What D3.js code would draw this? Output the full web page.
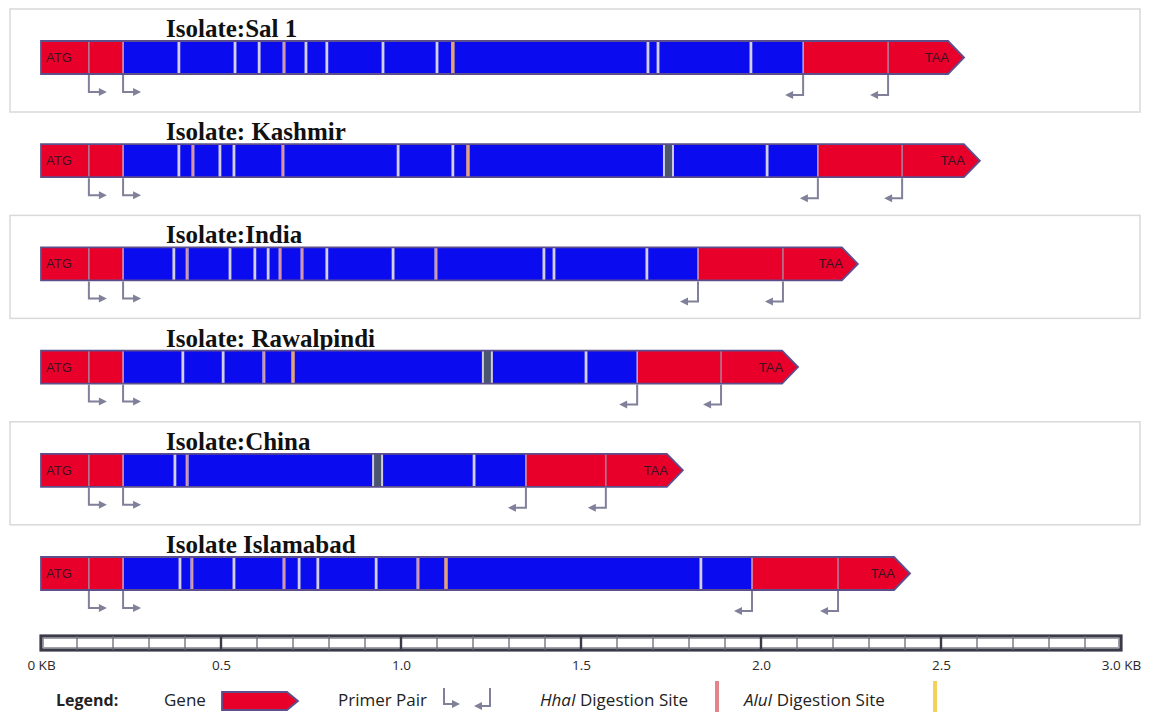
<!DOCTYPE html>
<html>
<head>
<meta charset="utf-8">
<script src="https://cdn.jsdelivr.net/npm/d3@7"></script>
<style>
  html, body { margin: 0; padding: 0; background: #fff; }
  svg { display: block; }
</style>
</head>
<body>
<svg id="map" width="1150" height="713"></svg>
<script>
// ---- data (positions along the gene, in KB) ----
const isolates = ["Isolate:Sal 1", "Isolate: Kashmir", "Isolate:India", "Isolate: Rawalpindi", "Isolate:China", "Isolate Islamabad"];
const geneEnd   = [2.564, 2.608, 2.269, 2.103, 1.783, 2.414];
const tailStart = [2.117, 2.158, 1.825, 1.656, 1.347, 1.975];   // first reverse primer, start of 3' red region
const revPrimer = [2.353, 2.392, 2.061, 1.889, 1.569, 2.214];   // second reverse primer
const fwdPrimers = [0.133, 0.228];
const exonBreaks = [
  [0.383, 0.539, 0.606, 0.736, 0.794, 0.950, 1.100, 1.686, 1.714, 1.972],
  [0.383, 0.497, 0.536, 0.992, 1.144, 2.017],
  [0.369, 0.525, 0.594, 0.631, 0.794, 0.978, 1.397, 1.425, 1.683],
  [0.394, 0.506, 1.514],
  [0.372, 1.203],
  [0.386, 0.536, 0.717, 0.769, 0.931, 1.833]
];
const hhaISites = [
  [0.675],
  [0.422, 0.672],
  [0.406, 0.664, 0.725, 1.097],
  [0.619],
  [0.406],
  [0.419, 0.675, 1.047]
];
const aluISites = [
  [1.144],
  [1.186],
  [],
  [0.700],
  [],
  [1.125]
];
const pairedSites = [
  [],
  [1.743],
  [],
  [1.240],
  [0.935],
  []
];
const kbTicks = [0, 0.5, 1.0, 1.5, 2.0, 2.5, 3.0];
const tickLabels = ["0 KB", "0.5", "1.0", "1.5", "2.0", "2.5", "3.0 KB"];

// ---- layout ----
const svg = d3.select("#map");
const x = d3.scaleLinear().domain([0, 3]).range([41, 1121]);
const rowY = d3.scaleLinear().domain([0, 1]).range([41, 144.2]); // top of each gene bar
const barH = 33, headLen = 16;

const RED = "#e8002b", BLUE = "#0b0bef", OUTLINE = "#5c4f8c";
const HHA = "#e2848a", ALU = "#f2d25a", ALU_IN = "#e6a468";
const BREAK = "#d3cfe2", ARROW = "#80809a", DARK = "#4a5670";

const defs = svg.append("defs");

function genePath(x0, x1, y, h, head) {
  return `M${x0},${y}L${x1 - head},${y}L${x1},${y + h / 2}L${x1 - head},${y + h}L${x0},${y + h}Z`;
}

function fwdArrow(g, px, y0, y1, len) {
  g.append("path").attr("d", `M${px},${y0}V${y1}H${px + len - 5}`)
    .attr("fill", "none").attr("stroke", ARROW).attr("stroke-width", 2);
  g.append("path").attr("d", `M${px + len},${y1}L${px + len - 8},${y1 - 4}L${px + len - 8},${y1 + 4}Z`)
    .attr("fill", ARROW);
}
function revArrow(g, px, y0, y1, len) {
  g.append("path").attr("d", `M${px},${y0}V${y1}H${px - len + 5}`)
    .attr("fill", "none").attr("stroke", ARROW).attr("stroke-width", 2);
  g.append("path").attr("d", `M${px - len},${y1}L${px - len + 8},${y1 - 4}L${px - len + 8},${y1 + 4}Z`)
    .attr("fill", ARROW);
}

isolates.forEach((name, i) => {
  const y = rowY(i);
  const g = svg.append("g").attr("class", "isolate");

  // framed panels on alternate rows
  if (i % 2 === 0) {
    g.append("rect").attr("x", 10).attr("y", y - 32).attr("width", 1130).attr("height", 103)
      .attr("fill", "none").attr("stroke", "#d9d9dc").attr("stroke-width", 1.5);
  }

  // isolate title
  g.append("text").attr("x", 166).attr("y", y - 4)
    .attr("font-family", "Liberation Serif, serif").attr("font-weight", "bold")
    .attr("font-size", 25).attr("fill", "#111").text(name);

  const x0 = x(0), x1 = x(geneEnd[i]);
  const d = genePath(x0, x1, y, barH, headLen);
  const clipId = "clip" + i;
  defs.append("clipPath").attr("id", clipId).append("path").attr("d", d);

  const body = g.append("g").attr("clip-path", `url(#${clipId})`);
  body.append("path").attr("d", d).attr("fill", RED);
  body.append("rect").attr("x", x(fwdPrimers[1])).attr("y", y)
    .attr("width", x(tailStart[i]) - x(fwdPrimers[1])).attr("height", barH).attr("fill", BLUE);

  // region boundaries and primer sites inside red regions
  [fwdPrimers[0], revPrimer[i]].forEach(p => {
    body.append("line").attr("x1", x(p)).attr("x2", x(p)).attr("y1", y).attr("y2", y + barH)
      .attr("stroke", "#a497ad").attr("stroke-width", 1.3);
  });
  [fwdPrimers[1], tailStart[i]].forEach(p => {
    body.append("line").attr("x1", x(p)).attr("x2", x(p)).attr("y1", y).attr("y2", y + barH)
      .attr("stroke", "#c9c0dc").attr("stroke-width", 1.3);
  });

  // plain breaks
  exonBreaks[i].forEach(p => {
    body.append("line").attr("x1", x(p)).attr("x2", x(p)).attr("y1", y).attr("y2", y + barH)
      .attr("stroke", BREAK).attr("stroke-width", 2.8);
  });
  // HhaI sites
  hhaISites[i].forEach(p => {
    body.append("line").attr("x1", x(p)).attr("x2", x(p)).attr("y1", y).attr("y2", y + barH)
      .attr("stroke", "#c7b8d8").attr("stroke-width", 3);
    body.append("line").attr("x1", x(p)).attr("x2", x(p)).attr("y1", y).attr("y2", y + barH)
      .attr("stroke", HHA).attr("stroke-width", 1.4);
  });
  // AluI sites
  aluISites[i].forEach(p => {
    body.append("line").attr("x1", x(p)).attr("x2", x(p)).attr("y1", y).attr("y2", y + barH)
      .attr("stroke", "#d89a9a").attr("stroke-width", 3.6);
    body.append("line").attr("x1", x(p)).attr("x2", x(p)).attr("y1", y).attr("y2", y + barH)
      .attr("stroke", ALU_IN).attr("stroke-width", 1.8);
  });
  // closely spaced HhaI + AluI pair
  pairedSites[i].forEach(p => {
    body.append("rect").attr("x", x(p) - 5.5).attr("y", y).attr("width", 11).attr("height", barH)
      .attr("fill", "#cfcadf");
    body.append("rect").attr("x", x(p) - 3.5).attr("y", y).attr("width", 7).attr("height", barH)
      .attr("fill", DARK);
  });

  // outline
  g.append("path").attr("d", d).attr("fill", "none").attr("stroke", OUTLINE).attr("stroke-width", 1.8)
    .attr("stroke-linejoin", "miter");

  // start / stop codons
  g.append("text").attr("x", x0 + 5).attr("y", y + barH / 2 + 4.5)
    .attr("font-family", "Liberation Sans, Arial, sans-serif").attr("font-size", 13)
    .attr("fill", "#3a1422").text("ATG");
  g.append("text").attr("x", x1 - headLen + 1).attr("y", y + barH / 2 + 4.5)
    .attr("text-anchor", "end")
    .attr("font-family", "Liberation Sans, Arial, sans-serif").attr("font-size", 13)
    .attr("fill", "#3a1422").text("TAA");

  // primer pair
  fwdPrimers.forEach(p => fwdArrow(g, x(p), y + barH + 1, y + barH + 18, 18));
  [tailStart[i], revPrimer[i]].forEach(p => revArrow(g, x(p), y + barH + 1, y + barH + 21, 18));
});

// ---- KB ruler ----
const ruler = svg.append("g").attr("class", "ruler");
const rTop = 636, rH = 14;
ruler.append("rect").attr("x", x(0)).attr("y", rTop).attr("width", x(3) - x(0)).attr("height", rH)
  .attr("fill", "#fff").attr("stroke", "#3a3a48").attr("stroke-width", 3.2);
ruler.append("rect").attr("x", x(0) + 2.5).attr("y", rTop + 2.5).attr("width", x(3) - x(0) - 5).attr("height", rH - 5)
  .attr("fill", "none").attr("stroke", "#8a8a96").attr("stroke-width", 0.8);
d3.range(1, 30).forEach(k => {
  const v = k / 10, major = k % 5 === 0;
  ruler.append("line").attr("x1", x(v)).attr("x2", x(v)).attr("y1", rTop).attr("y2", rTop + rH)
    .attr("stroke", major ? "#3a3a48" : "#6a6a76").attr("stroke-width", major ? 2.4 : 1.3);
});

const axis = d3.axisBottom(x).tickValues(kbTicks).tickSize(0).tickPadding(0)
  .tickFormat((d, i) => tickLabels[i]);
const axG = svg.append("g").attr("transform", `translate(0,${rTop + rH + 10})`).call(axis);
axG.select(".domain").remove();
axG.selectAll("text").attr("font-family", "Open Sans, sans-serif").attr("font-size", 13.5)
  .attr("fill", "#2a2a2a").attr("dy", "0.72em");

// ---- legend ----
const lg = svg.append("g").attr("class", "legend").attr("font-family", "Open Sans, sans-serif")
  .attr("font-size", 17).attr("fill", "#222");
const ly = 706;
lg.append("text").attr("x", 56).attr("y", ly).attr("font-weight", "bold").attr("font-size", 16).text("Legend:");
lg.append("text").attr("x", 164).attr("y", ly).text("Gene");
lg.append("path").attr("d", genePath(222, 298, 692, 18, 11)).attr("fill", RED)
  .attr("stroke", OUTLINE).attr("stroke-width", 1.8);
lg.append("text").attr("x", 338).attr("y", ly).text("Primer Pair");
fwdArrow(lg, 444, 688, 704, 16);
revArrow(lg, 490, 688, 706, 16);
const t1 = lg.append("text").attr("x", 540).attr("y", ly);
t1.append("tspan").attr("font-style", "italic").text("HhaI");
t1.append("tspan").text(" Digestion Site");
lg.append("rect").attr("x", 715).attr("y", 681).attr("width", 4).attr("height", 31).attr("fill", HHA);
const t2 = lg.append("text").attr("x", 744).attr("y", ly);
t2.append("tspan").attr("font-style", "italic").text("AluI");
t2.append("tspan").text(" Digestion Site");
lg.append("rect").attr("x", 933).attr("y", 681).attr("width", 4).attr("height", 31).attr("fill", ALU);
</script>
</body>
</html>
